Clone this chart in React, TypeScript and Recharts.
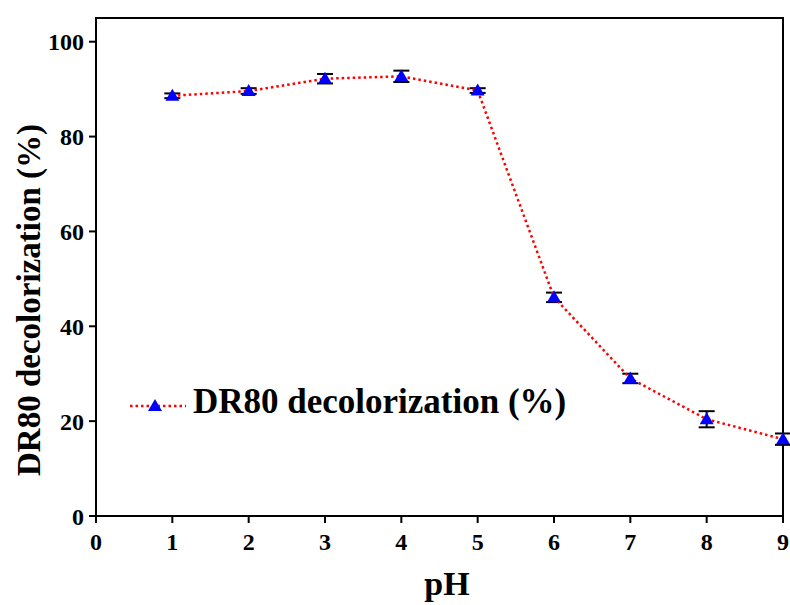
import {
  LineChart,
  Line,
  XAxis,
  YAxis,
  ErrorBar,
  ReferenceArea,
} from "recharts";

const phValues = [1, 2, 3, 4, 5, 6, 7, 8, 9];
const decolorization = [88.6, 89.6, 92.2, 92.7, 89.7, 46.1, 29.0, 20.4, 16.2];
const errors = [0.5, 0.6, 1.0, 1.2, 0.5, 1.0, 1.0, 1.7, 1.2];
const xTicks = [0, 1, 2, 3, 4, 5, 6, 7, 8, 9];
const yTicks = [0, 20, 40, 60, 80, 100];
const seriesName = "DR80 decolorization (%)";

const data = phValues.map((ph, i) => ({
  ph,
  value: decolorization[i],
  err: errors[i],
}));

const FONT = '"Liberation Serif", "Times New Roman", serif';

function XTick(props: any) {
  const { x, y, payload } = props;
  return (
    <text x={x} y={y} dy="0.71em" textAnchor="middle" fill="#000"
      style={{ fontFamily: FONT, fontSize: 24, fontWeight: 700 }}>
      {payload.value}
    </text>
  );
}

function YTick(props: any) {
  const { x, y, payload } = props;
  return (
    <text x={x} y={y} dy="0.355em" textAnchor="end" fill="#000"
      style={{ fontFamily: FONT, fontSize: 24, fontWeight: 700 }}>
      {payload.value}
    </text>
  );
}

function Triangle(props: any) {
  const { cx, cy } = props;
  if (cx == null || cy == null) return null;
  return (
    <path
      d={`M${cx},${cy - 7} L${cx + 7},${cy + 5} L${cx - 7},${cy + 5} Z`}
      fill="#0000ff"
    />
  );
}

export default function App() {
  return (
    <div style={{ position: "fixed", left: 0, top: 0, width: 790, height: 605, background: "#fff" }}>
      <LineChart
        width={790}
        height={605}
        data={data}
        margin={{ top: 18, right: 7, left: 0, bottom: 0 }}
      >
        <XAxis
          dataKey="ph"
          type="number"
          domain={[0, 9]}
          ticks={xTicks}
          height={89}
          tickSize={7}
          tickMargin={10}
          stroke="#000"
          strokeWidth={2}
          tick={<XTick />}
          label={() => (
            <text
              x={447}
              y={595}
              textAnchor="middle"
              style={{ fontFamily: FONT, fontSize: 34, fontWeight: 700 }}
              fill="#000"
            >
              pH
            </text>
          )}
        />
        <YAxis
          type="number"
          domain={[0, 105]}
          ticks={yTicks}
          width={96}
          tickSize={7}
          tickMargin={5}
          stroke="#000"
          strokeWidth={2}
          tick={<YTick />}
          label={() => (
            <text
              x={40}
              y={300}
              transform="rotate(-90 40 300)"
              textAnchor="middle"
              style={{ fontFamily: FONT, fontSize: 33, fontWeight: 700 }}
              fill="#000"
            >
              {seriesName}
            </text>
          )}
        />
        <ReferenceArea
          x1={0}
          x2={9}
          y1={0}
          y2={105}
          fill="none"
          stroke="#000"
          strokeWidth={2}
          ifOverflow="visible"
        />
        <Line
          dataKey="value"
          name={seriesName}
          stroke="#ff0000"
          strokeWidth={2.5}
          strokeDasharray="2.5 3"
          dot={<Triangle />}
          activeDot={false}
          isAnimationActive={false}
        >
          <ErrorBar dataKey="err" direction="y" width={8} stroke="#000" strokeWidth={2} />
        </Line>
      </LineChart>
      <div
        style={{
          position: "absolute",
          left: 128,
          top: 382,
          display: "flex",
          alignItems: "center",
        }}
      >
        <svg width={60} height={30}>
          <line x1={2} y1={19} x2={58} y2={19} stroke="#ff0000" strokeWidth={2.5} strokeDasharray="2.5 3" />
          <path d="M27,12 L34,24 L20,24 Z" fill="#0000ff" />
        </svg>
        <span
          style={{
            fontFamily: FONT,
            fontSize: 35,
            fontWeight: 700,
            color: "#000",
            marginLeft: 5,
            lineHeight: "40px",
          }}
        >
          {seriesName}
        </span>
      </div>
    </div>
  );
}
